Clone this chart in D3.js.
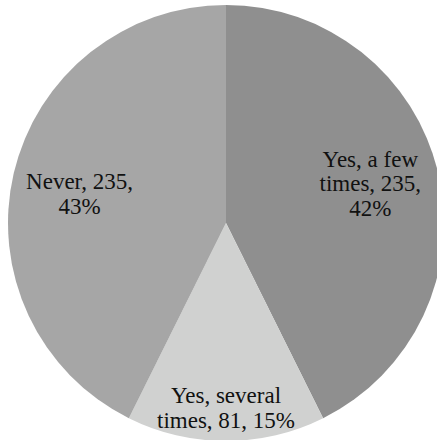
<!DOCTYPE html>
<html lang="en">
<head>
    <meta charset="UTF-8">
    <title>Pie</title>
    <style>
        body { margin: 0; background: #ffffff; }
        text {
            font-family: "Liberation Serif", "DejaVu Serif", serif;
            font-size: 23px;
            fill: #111111;
        }
    </style>
</head>
<body>
<div id="chart"></div>

<script src="https://cdn.jsdelivr.net/npm/d3@7"></script>
<script>
    // chart data
    var categories = ["Yes, a few times", "Yes, several times", "Never"];
    var values = [235, 81, 235];
    var percents = ["42%", "15%", "43%"];
    // how each label wraps (same text as the chart)
    var labelLines = [
        ["Yes, a few", "times, 235,", "42%"],
        ["Yes, several", "times, 81, 15%"],
        ["Never, 235,", "43%"]
    ];

    var colors = ["#8f8f8f", "#d0d1d0", "#a6a6a6"];
    var labelRadius = [0.68, 0.87, 0.69];
    var labelShift = [-4, -3, 7];

    var width = 437, height = 440;
    var cx = 226, cy = 223, radius = 218;
    var lineHeight = 24.5;

    var svg = d3.select("#chart")
        .append("svg")
        .attr("width", width)
        .attr("height", height);

    var g = svg.append("g")
        .attr("transform", "translate(" + cx + "," + cy + ")");

    var pie = d3.pie().sort(null).value(function (d) { return d; });
    var arcs = pie(values);

    var arc = d3.arc().innerRadius(0).outerRadius(radius);

    g.selectAll("path")
        .data(arcs)
        .enter()
        .append("path")
        .attr("d", arc)
        .attr("fill", function (d, i) { return colors[i]; });

    // labels
    g.selectAll("text.label")
        .data(arcs)
        .enter()
        .append("text")
        .attr("class", "label")
        .attr("text-anchor", "middle")
        .each(function (d, i) {
            var r = radius * labelRadius[i];
            var a = (d.startAngle + d.endAngle) / 2;
            var x = r * Math.sin(a);
            var y = -r * Math.cos(a) + labelShift[i];
            var lines = labelLines[i];
            var y0 = y - (lines.length - 1) * lineHeight / 2 + 6;
            var t = d3.select(this);
            lines.forEach(function (line, k) {
                t.append("tspan")
                    .attr("x", x)
                    .attr("y", y0 + k * lineHeight)
                    .text(line);
            });
        });
</script>
</body>
</html>
